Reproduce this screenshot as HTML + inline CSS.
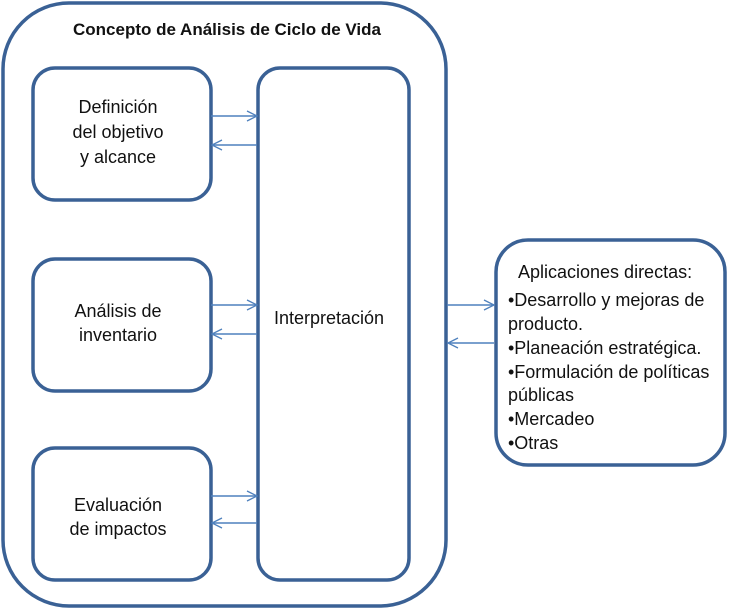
<!DOCTYPE html>
<html><head><meta charset="utf-8"><style>
html,body{margin:0;padding:0;background:#fff;}
svg{display:block;}
text{font-family:"Liberation Sans",sans-serif;fill:#111;}
</style></head><body>
<svg width="743" height="611" viewBox="0 0 743 611" xmlns="http://www.w3.org/2000/svg">
<defs>
<marker id="a" markerWidth="12" markerHeight="12" refX="11" refY="6" orient="auto" markerUnits="userSpaceOnUse">
<path d="M1,1 L11,6 L1,11" fill="none" stroke="#4f81bd" stroke-width="1.3"/>
</marker>
</defs>
<g fill="#fff" stroke="#3a6195" stroke-width="3.5">
<rect x="3" y="3" width="443" height="603" rx="66"/>
<rect x="33" y="68" width="178" height="132" rx="22"/>
<rect x="33" y="259" width="178" height="132" rx="22"/>
<rect x="33" y="448" width="178" height="132" rx="22"/>
<rect x="258" y="68" width="151" height="512" rx="22"/>
<rect x="496" y="240" width="229" height="225" rx="32"/>
</g>
<g stroke="#4f81bd" stroke-width="1.5" fill="none" marker-end="url(#a)">
<line x1="211" y1="116" x2="257" y2="116"/>
<line x1="257" y1="145" x2="212" y2="145"/>
<line x1="211" y1="305" x2="257" y2="305"/>
<line x1="257" y1="334" x2="212" y2="334"/>
<line x1="211" y1="496" x2="257" y2="496"/>
<line x1="257" y1="523" x2="212" y2="523"/>
<line x1="447" y1="305" x2="494" y2="305"/>
<line x1="494" y1="343" x2="448" y2="343"/>
</g>
<text x="227" y="35" text-anchor="middle" font-size="17" font-weight="bold">Concepto de Análisis de Ciclo de Vida</text>
<g font-size="18" text-anchor="middle">
<text x="118" y="113">Definición</text>
<text x="118" y="138">del objetivo</text>
<text x="118" y="163">y alcance</text>
<text x="118" y="317">Análisis de</text>
<text x="118" y="341">inventario</text>
<text x="118" y="511">Evaluación</text>
<text x="118" y="535">de impactos</text>
<text x="329" y="324">Interpretación</text>
</g>
<g font-size="18">
<text x="518" y="278">Aplicaciones directas:</text>
<text x="508" y="306">•Desarrollo y mejoras de</text>
<text x="508" y="330">producto.</text>
<text x="508" y="354">•Planeación estratégica.</text>
<text x="508" y="378">•Formulación de políticas</text>
<text x="508" y="401">públicas</text>
<text x="508" y="425">•Mercadeo</text>
<text x="508" y="449">•Otras</text>
</g>
</svg>
</body></html>
